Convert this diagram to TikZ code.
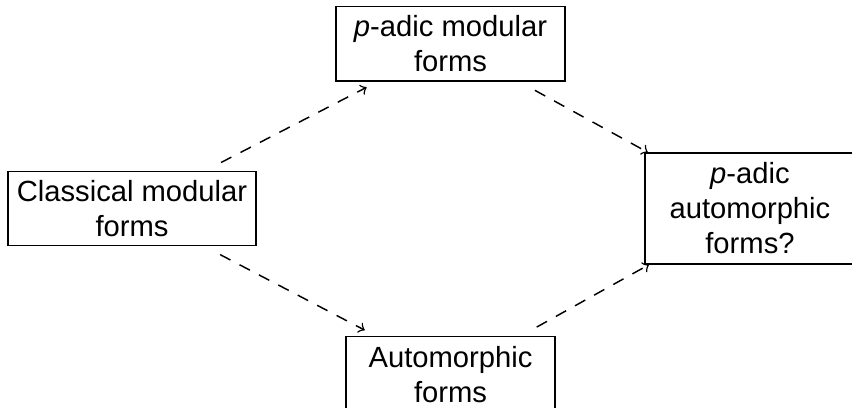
\documentclass[tikz,border=0pt]{standalone}
\usepackage{fontspec}
\setmainfont{Liberation Sans}

\begin{document}
\begin{tikzpicture}[line width=0.5pt]

\clip (0,0) rectangle (10.256,4.911);

\tikzstyle{box}=[draw,align=center,inner xsep=2pt,inner ysep=2pt,minimum height=25.5pt]
\tikzstyle{link}=[dash pattern=on 4pt off 3.5pt,->,shorten <=6pt]

\node (classical) [box,minimum width=84.9pt] at (1.589,2.401) {Classical modular\\forms};
\node (padicmod) [box,minimum width=78.4pt] at (5.423,4.382) {\textit{p}-adic modular\\forms};
\node (automorphic) [box,minimum width=71.6pt,minimum height=26.5pt] at (5.423,0.397) {Automorphic\\forms};
\node (padicauto) [box,minimum width=71.9pt,minimum height=38pt] at (9.028,2.401) {\textit{p}-adic\\automorphic\\forms?};

\draw[link,shorten >=4pt] (classical) -- (padicmod);
\draw[link,shorten >=4pt] (classical) -- (automorphic);
\draw[link] (padicmod) -- (padicauto);
\draw[link] (automorphic) -- (padicauto);

\end{tikzpicture}
\end{document}
